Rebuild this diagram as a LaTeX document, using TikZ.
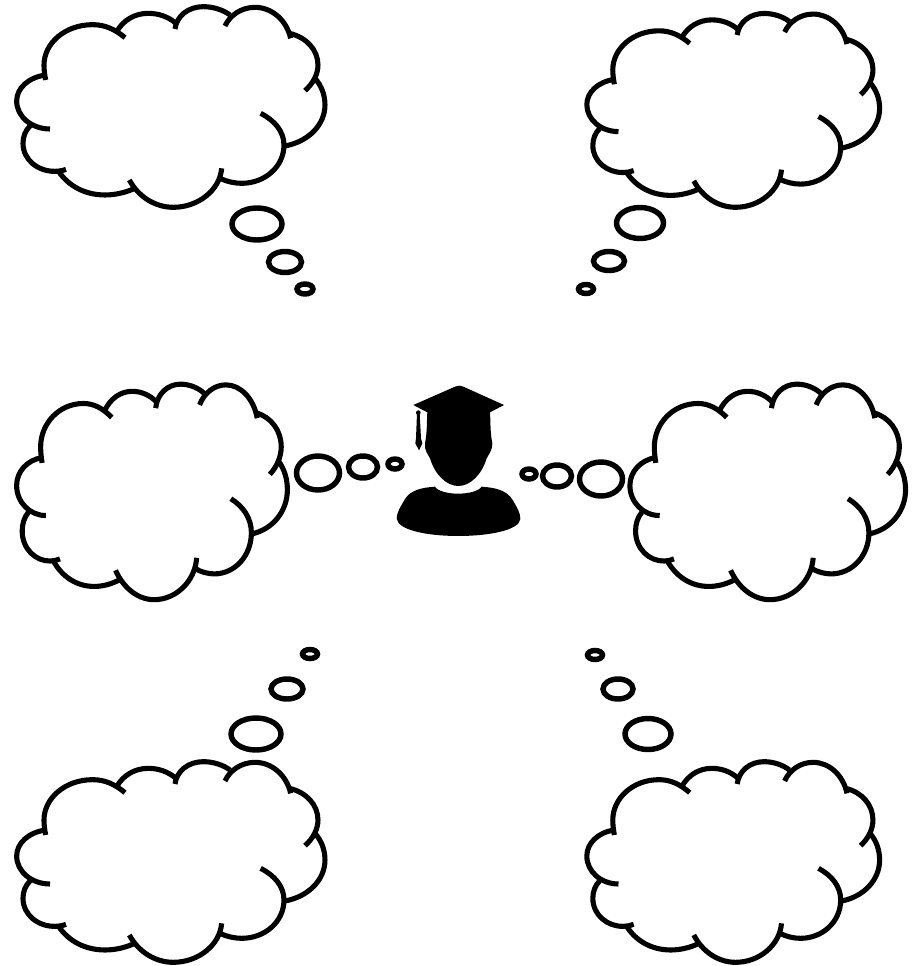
\documentclass[tikz,border=0pt]{standalone}
\usetikzlibrary{shapes.geometric}
\begin{document}
\begin{tikzpicture}[
  x=0.02cm, y=-0.02cm,
  outline/.style={line width=2.9pt, line cap=butt, black},
  bubble/.style={ellipse, draw, line width=3.1pt, inner sep=0pt, outer sep=0pt},
  pics/cloud/.style={code={
    \draw[outline] (375,113) .. controls (345,88) and (315,74) .. (278,74) .. controls (195,74) and (132,130) .. (132,195) .. controls (132,210) and (134,225) .. (137,240);
    \draw[outline] (137,225) .. controls (85,232) and (50,265) .. (50,303) .. controls (50,350) and (95,387) .. (150,387);
    \draw[outline] (90,378) .. controls (76,392) and (69,410) .. (69,430) .. controls (69,480) and (115,515) .. (165,514) .. controls (176,514) and (188,512) .. (198,508);
    \draw[outline] (175,513) .. controls (205,558) and (255,585) .. (315,585) .. controls (345,585) and (375,578) .. (400,567);
    \draw[outline] (388,540) .. controls (415,590) and (465,622) .. (520,622) .. controls (595,622) and (660,570) .. (665,505);
    \draw[outline] (660,535) .. controls (680,545) and (705,550) .. (725,550) .. controls (795,550) and (852,500) .. (852,435) .. controls (852,395) and (825,362) .. (782,340);
    \draw[outline] (855,438) .. controls (925,425) and (975,375) .. (975,315) .. controls (975,285) and (965,258) .. (945,235);
    \draw[outline] (915,272) .. controls (940,250) and (954,222) .. (954,195) .. controls (954,150) and (920,112) .. (868,100);
    \draw[outline] (872,115) .. controls (860,60) and (815,22) .. (765,22) .. controls (725,22) and (690,45) .. (675,78);
    \draw[outline] (690,45) .. controls (670,30) and (640,20) .. (610,20) .. controls (565,20) and (530,48) .. (525,87);
    \draw[outline] (528,70) .. controls (505,50) and (475,40) .. (445,40) .. controls (405,40) and (370,60) .. (350,95);
  }},
  pics/graduate/.style={code={
    % cap and head
    \fill (100,90) -- (225,35) .. controls (235,31) and (240,31) .. (250,35) -- (372,90) -- (330,112)
      .. controls (332,140) and (330,170) .. (337,205) .. controls (338,225) and (325,240) .. (320,250)
      .. controls (305,300) and (270,333) .. (235,333) .. controls (200,333) and (165,300) .. (150,250)
      .. controls (145,240) and (132,225) .. (135,205) .. controls (142,170) and (140,140) .. (142,112) -- cycle;
    % tassel
    \fill (115,113) circle[radius=7];
    \fill (111,115) -- (119,115) -- (123,190) -- (127,205) -- (117,226) -- (106,205) -- (108,190) -- cycle;
    % shoulders
    \fill (165,335) .. controls (180,362) and (285,364) .. (305,335)
      .. controls (345,338) and (380,345) .. (398,375) .. controls (410,395) and (422,415) .. (421,432)
      .. controls (418,465) and (330,483) .. (235,483) .. controls (140,483) and (52,465) .. (50,430)
      .. controls (50,412) and (62,395) .. (75,372) .. controls (92,345) and (125,338) .. (165,335) -- cycle;
  }}
]
\useasboundingbox (0,0) rectangle (921,966);
% top row
\pic[xscale=0.3333, yscale=0.3333] at (0,0) {cloud};
\pic[xscale=0.3165, yscale=0.322] at (571,7) {cloud};
\node[bubble, minimum width=50*0.02cm, minimum height=32*0.02cm] (bubbleA1) at (257,224) {};
\node[bubble, minimum width=33*0.02cm, minimum height=21*0.02cm] (bubbleA2) at (285,262) {};
\node[bubble, minimum width=16*0.02cm, minimum height=10*0.02cm] (bubbleA3) at (305,289) {};
\node[bubble, minimum width=47*0.02cm, minimum height=31*0.02cm] (bubbleB1) at (640,223) {};
\node[bubble, minimum width=31*0.02cm, minimum height=19*0.02cm] (bubbleB2) at (609,261) {};
\node[bubble, minimum width=15*0.02cm, minimum height=9*0.02cm] (bubbleB3) at (586,289) {};
% middle row
\pic[xscale=0.2927, yscale=0.358] at (2,377) {cloud};
\pic[xscale=0.298, yscale=0.358] at (615,377) {cloud};
\node[bubble, minimum width=43*0.02cm, minimum height=34*0.02cm] (bubbleC1) at (318,473) {};
\node[bubble, minimum width=29*0.02cm, minimum height=22*0.02cm] (bubbleC2) at (363,467) {};
\node[bubble, minimum width=14*0.02cm, minimum height=10*0.02cm] (bubbleC3) at (395,464) {};
\node[bubble, minimum width=43*0.02cm, minimum height=34*0.02cm] (bubbleD1) at (601,479) {};
\node[bubble, minimum width=29*0.02cm, minimum height=22*0.02cm] (bubbleD2) at (557,476) {};
\node[bubble, minimum width=14*0.02cm, minimum height=10*0.02cm] (bubbleD3) at (529,474) {};
\pic[xscale=0.3333, yscale=0.3333] at (380,375) {graduate};
% bottom row
\pic[xscale=0.3333, yscale=0.3333] at (0,755) {cloud};
\pic[xscale=0.3165, yscale=0.3333] at (571,755) {cloud};
\node[bubble, minimum width=50*0.02cm, minimum height=32*0.02cm] (bubbleE1) at (256,734) {};
\node[bubble, minimum width=32*0.02cm, minimum height=20*0.02cm] (bubbleE2) at (287,689) {};
\node[bubble, minimum width=15*0.02cm, minimum height=9*0.02cm] (bubbleE3) at (310,654) {};
\node[bubble, minimum width=46*0.02cm, minimum height=31*0.02cm] (bubbleF1) at (648,734) {};
\node[bubble, minimum width=30*0.02cm, minimum height=20*0.02cm] (bubbleF2) at (618,689) {};
\node[bubble, minimum width=15*0.02cm, minimum height=9*0.02cm] (bubbleF3) at (595,655) {};
\end{tikzpicture}
\end{document}
